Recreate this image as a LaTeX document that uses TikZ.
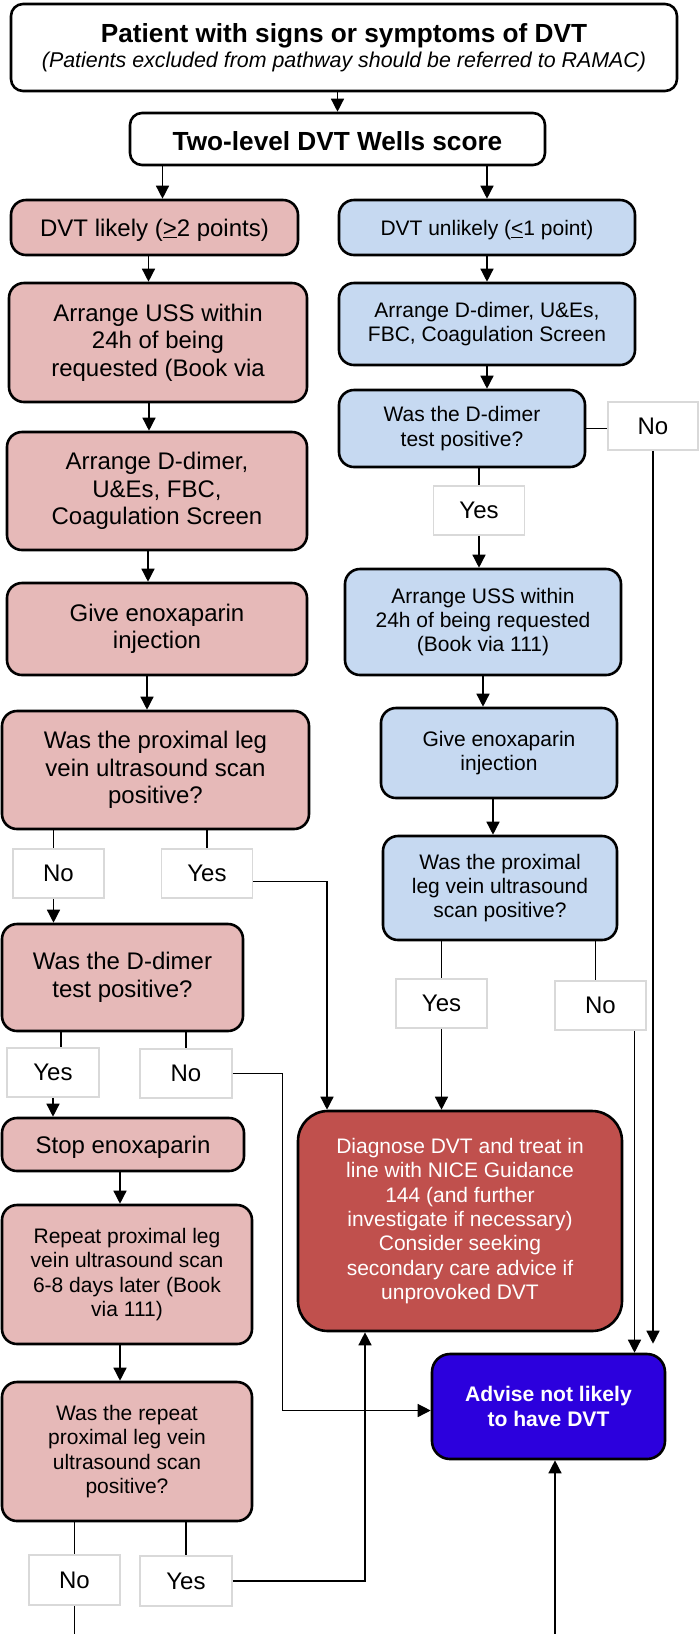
\documentclass[tikz,border=0pt]{standalone}
\usepackage{fontspec}
\setmainfont{Liberation Sans}
\usetikzlibrary{arrows.meta}
\definecolor{rosa}{HTML}{E6B9B8}
\definecolor{celeste}{HTML}{C6D9F1}
\definecolor{rojo}{HTML}{C0504D}
\definecolor{violeta}{HTML}{2C00DD}
\definecolor{gris}{HTML}{D9D9D9}

\begin{document}
\begin{tikzpicture}[x=1pt, y=-1pt,
  every node/.style={inner sep=0pt, align=center},
  bigtext/.style={font=\fontsize{24}{27.5}\selectfont},
  smalltext/.style={font=\fontsize{21}{24.4}\selectfont},
  lift/.style={execute at begin node={\rule{0pt}{#1}}},
  box/.style={rectangle, draw, rounded corners=15pt, line width=2.6pt},
  head/.style={box, rounded corners=12pt, fill=white,
    font=\fontsize{26.2}{30}\selectfont\bfseries, lift=#1},
  head/.default=24pt,
  redbox/.style={box, fill=rosa, bigtext, lift=22pt},
  redsmall/.style={box, fill=rosa, smalltext, lift=20.5pt},
  bluebox/.style={box, fill=celeste, smalltext, lift=20.5pt},
  answer/.style={rectangle, draw=gris, line width=1.5pt, fill=white, bigtext,
    minimum width=91pt, minimum height=49pt},
  stem/.style={line width=1.4pt},
  flow/.style={stem, -{Triangle[length=13pt,width=13pt]}}]
\useasboundingbox (0,0) rectangle (700,1634);
\fill[white] (0,0) rectangle (700,1634);
\coordinate (bottom) at (0,1634);
\coordinate (up) at (555,1634);

% top
\node[head=23pt, minimum width=666pt, minimum height=87pt,
  font=\fontsize{21.4}{25.5}\selectfont] (start) at (344,47.5)
  {{\fontsize{26.2}{25.5}\selectfont\bfseries Patient with signs or symptoms of DVT}\\
   \itshape (Patients excluded from pathway should be referred to RAMAC)};
\node[head, minimum width=415pt, minimum height=52pt] (wells) at (337.5,139)
  {Two-level DVT Wells score};

% left branch
\node[redbox, minimum width=287pt, minimum height=55pt] (likely) at (154.5,227.5)
  {DVT likely (\underline{>}2 points)};
\node[redbox, minimum width=298pt, minimum height=119pt] (ussl) at (158,342.5)
  {Arrange USS within\\24h of being\\requested (Book via};
\node[redbox, minimum width=300pt, minimum height=118pt] (ddl) at (157,491)
  {Arrange D-dimer,\\U\&Es, FBC,\\Coagulation Screen};
\node[redbox, minimum width=300pt, minimum height=92pt] (givel) at (157,629)
  {Give enoxaparin\\injection};
\node[redbox, minimum width=307pt, minimum height=118pt] (proxl) at (155.5,770)
  {Was the proximal leg\\vein ultrasound scan\\positive?};
\node[answer] (no1) at (58.5,873.5) {No};
\node[answer] (yes1) at (207,873.5) {Yes};
\node[redbox, minimum width=241pt, minimum height=107pt] (dimerl) at (122.5,977.5)
  {Was the D-dimer\\test positive?};
\node[answer, minimum width=92pt] (yes2) at (53,1072.5) {Yes};
\node[answer, minimum width=92pt] (no2) at (186,1073.5) {No};
\node[redbox, minimum width=242pt, minimum height=53pt] (stop) at (123,1144.5)
  {Stop enoxaparin};
\node[redsmall, minimum width=250pt, minimum height=139pt] (repeat) at (127,1274.5)
  {Repeat proximal leg\\vein ultrasound scan\\6-8 days later (Book\\via 111)};
\node[redsmall, minimum width=250pt, minimum height=139pt] (again) at (127,1451.5)
  {Was the repeat\\proximal leg vein\\ultrasound scan\\positive?};
\node[answer, minimum height=50pt] (no3) at (74.5,1580) {No};
\node[answer, minimum width=92pt, minimum height=50pt] (yes3) at (186,1581) {Yes};

% right branch
\node[bluebox, minimum width=296pt, minimum height=55pt] (unlikely) at (487,227.5)
  {DVT unlikely (\underline{<}1 point)};
\node[bluebox, minimum width=296pt, minimum height=82pt] (ddr) at (487,324)
  {Arrange D-dimer, U\&Es,\\FBC, Coagulation Screen};
\node[bluebox, minimum width=246pt, minimum height=77pt] (dimerr) at (462,428.5)
  {Was the D-dimer\\test positive?};
\node[answer, minimum width=90pt, minimum height=48pt] (no4) at (653,426) {No};
\node[answer] (yes4) at (479,510.5) {Yes};
\node[bluebox, minimum width=276pt, minimum height=106pt] (ussr) at (483,622)
  {Arrange USS within\\24h of being requested\\(Book via 111)};
\node[bluebox, minimum width=236pt, minimum height=90pt] (giver) at (499,753)
  {Give enoxaparin\\injection};
\node[bluebox, minimum width=234pt, minimum height=104pt] (proxr) at (500,888)
  {Was the proximal\\leg vein ultrasound\\scan positive?};
\node[answer] (yes5) at (441.5,1003.5) {Yes};
\node[answer] (no5) at (600.5,1005.5) {No};

% outcomes
\node[box, rounded corners=30pt, fill=rojo, text=white, smalltext, lift=20.5pt,
  minimum width=324pt, minimum height=220pt] (diag) at (460,1221)
  {Diagnose DVT and treat in\\line with NICE Guidance\\144 (and further\\investigate if necessary)\\Consider seeking\\secondary care advice if\\unprovoked DVT};
\node[box, rounded corners=18pt, fill=violeta, text=white,
  font=\fontsize{21.1}{24.4}\selectfont\bfseries, lift=17.2pt,
  minimum width=233pt, minimum height=105pt] (advise) at (548.5,1406.5)
  {Advise not likely\\to have DVT};

% connectors, top
\draw[flow] (start.south -| wells) -- (wells);
\draw[flow] ([xshift=8pt]likely.north |- wells.south) -- ([xshift=8pt]likely.north);
\draw[flow] (unlikely.north |- wells.south) -- (unlikely);

% connectors, left
\draw[flow] ([xshift=-6pt]likely.south) -- ([xshift=-6pt]likely.south |- ussl.north);
\draw[flow] ([xshift=-9pt]ussl.south) -- ([xshift=-9pt]ussl.south |- ddl.north);
\draw[flow] ([xshift=-9pt]ddl.south) -- ([xshift=-9pt]ddl.south |- givel.north);
\draw[flow] ([xshift=-10pt]givel.south) -- ([xshift=-10pt]givel.south |- proxl.north);
\draw[stem] ([xshift=-5pt]no1.north |- proxl.south) -- ([xshift=-5pt]no1.north);
\draw[stem] (yes1.north |- proxl.south) -- (yes1.north);
\draw[flow] ([xshift=-5pt]no1.south) -- ([xshift=-5pt]no1.south |- dimerl.north);
\draw[flow] ([yshift=-8pt]yes1.east) -| ([xshift=-133pt]diag.north);
\draw[stem] ([xshift=8pt]yes2.north |- dimerl.south) -- ([xshift=8pt]yes2.north);
\draw[stem] (no2.north |- dimerl.south) -- (no2.north);
\draw[flow] (yes2.south) -- (yes2.south |- stop.north);
\draw[flow] (no2.east) -- ++(50,0) |- ([yshift=-4pt]advise.west);
\draw[flow] ([xshift=-3pt]stop.south) -- ([xshift=-3pt]stop.south |- repeat.north);
\draw[flow] ([xshift=-7pt]repeat.south) -- ([xshift=-7pt]repeat.south |- again.north);
\draw[stem] (no3.north |- again.south) -- (no3.north);
\draw[stem] (yes3.north |- again.south) -- (yes3.north);
\draw[flow] (yes3.east) -| ([xshift=-95pt]diag.south);
\draw[stem] (no3.south) -- (no3.south |- bottom);
\draw[flow] (up) -- (up |- advise.south);

% connectors, right
\draw[flow] (unlikely.south) -- (unlikely.south |- ddr.north);
\draw[flow] (ddr.south) -- (ddr.south |- dimerr.north);
\draw[stem] (dimerr.east) -- (dimerr.east -| no4.west);
\draw[flow, shorten >=9pt] (no4.south) -- (no4.south |- advise.north);
\draw[stem] (yes4.north |- dimerr.south) -- (yes4.north);
\draw[flow] (yes4.south) -- (yes4.south |- ussr.north);
\draw[flow] (ussr.south) -- (ussr.south |- giver.north);
\draw[flow] ([xshift=-6pt]giver.south) -- ([xshift=-6pt]giver.south |- proxr.north);
\draw[stem] (yes5.north |- proxr.south) -- (yes5.north);
\draw[stem] ([xshift=-5pt]no5.north |- proxr.south) -- ([xshift=-5pt]no5.north);
\draw[flow] (yes5.south) -- (yes5.south |- diag.north);
\draw[flow] ([xshift=34pt]no5.south) -- ([xshift=34pt]no5.south |- advise.north);
\end{tikzpicture}
\end{document}
